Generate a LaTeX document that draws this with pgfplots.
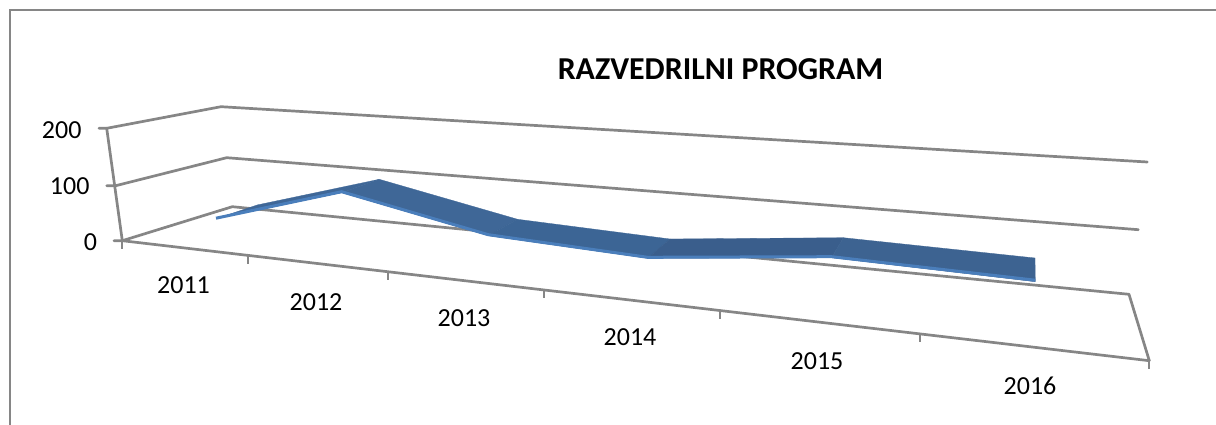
\documentclass[border=0pt]{standalone}
\usepackage{fontspec}
\setmainfont{Carlito}
\usepackage{pgfplots}
\pgfplotsset{compat=1.18}
\definecolor{gridc}{HTML}{868686}
\definecolor{frontc}{HTML}{4A7EBB}
\definecolor{ribA}{HTML}{3F6797}
\definecolor{ribB}{HTML}{3C6595}
\definecolor{ribC}{HTML}{3A5E8C}
\definecolor{ribD}{HTML}{3D6391}
\tikzset{
  grid line/.style={draw=gridc, line width=2.7pt, line cap=round, line join=round},
  tick line/.style={draw=gridc, line width=1.8pt},
  lab/.style={font=\fontsize{26}{26}\selectfont, inner sep=0pt},
}
\begin{document}
\begin{tikzpicture}
\useasboundingbox (0,0) rectangle (1216pt,425pt);
\begin{axis}[
  at={(0,0)}, anchor=south west, scale only axis,
  width=1216pt, height=425pt,
  xmin=0, xmax=1216, ymin=0, ymax=425, y dir=reverse,
  hide axis, clip=true,
]
% outer frame
\addplot[draw=gridc, line width=2.6pt] coordinates {(10,425) (10,10) (1216,10)};
% walls and gridlines
\addplot[grid line] coordinates {(99,128.3) (106.7,128.3) (221,106.7) (1147.3,162)};
\addplot[grid line] coordinates {(106.7,185.7) (115.7,185.7) (226.7,157.7) (1138.3,229.7)};
\addplot[grid line] coordinates {(114,240.7) (122.3,240.7) (232.3,206.7) (1129,294.3) (1149.3,360.7)};
\addplot[grid line] coordinates {(106.7,128.3) (122.3,240.7)};
% front floor edge and ticks
\addplot[grid line] coordinates {(122.3,240.7) (1149.3,360.7)};
\addplot[tick line] coordinates {(122.3,240.7) (122.3,249)};
\addplot[tick line] coordinates {(247.7,255.3) (247.7,263.7)};
\addplot[tick line] coordinates {(387.7,272) (387.7,279.7)};
\addplot[tick line] coordinates {(543.7,289.5) (543.7,298)};
\addplot[tick line] coordinates {(719.7,311) (719.7,319)};
\addplot[tick line] coordinates {(920,333.5) (920,342)};
\addplot[tick line] coordinates {(1149.3,360.7) (1149.3,368.7)};
% ribbon: segment by segment (front edge, then back edge)
\addplot[fill=ribA, draw=ribA, line width=0.3pt] coordinates {(216,218.7) (341.7,192.7) (379.3,179.3) (257,205) (216,218.7)};
\addplot[fill=ribA, draw=ribA, line width=0.3pt] coordinates {(341.7,192.7) (488.3,235.7) (517.7,219.3) (379.3,179.3) (341.7,192.7)};
\addplot[fill=ribB, draw=ribB, line width=0.3pt] coordinates {(488.3,235.7) (647.7,258.3) (670,239) (517.7,219.3) (488.3,235.7)};
\addplot[fill=ribC, draw=ribC, line width=0.3pt] coordinates {(647.7,258.3) (831.7,257.7) (843.3,237.7) (670,239) (647.7,258.3)};
\addplot[fill=ribD, draw=ribD, line width=0.3pt] coordinates {(831.7,257.7) (1035.3,281.7) (1035,258) (843.3,237.7) (831.7,257.7)};
% front lighter edge
\addplot[draw=frontc, line width=3pt, line join=round] coordinates {(216,218.2) (341.7,191.7) (488.3,234.7) (647.7,257.3) (831.7,256.7) (1035.3,280.2)};
% text
\node[font=\fontsize{31.9}{32}\selectfont\bfseries, inner sep=0pt] at (axis cs:720.5,69) {RAZVEDRILNI PROGRAM};
\node[lab] at (axis cs:61.7,130) {200};
\node[lab] at (axis cs:69.7,186) {100};
\node[lab] at (axis cs:90.5,241.7) {0};
\node[lab] at (axis cs:183.5,285) {2011};
\node[lab] at (axis cs:316,302) {2012};
\node[lab] at (axis cs:464,318) {2013};
\node[lab] at (axis cs:630,337) {2014};
\node[lab] at (axis cs:817,361) {2015};
\node[lab] at (axis cs:1030,386) {2016};
\end{axis}
\end{tikzpicture}
\end{document}
